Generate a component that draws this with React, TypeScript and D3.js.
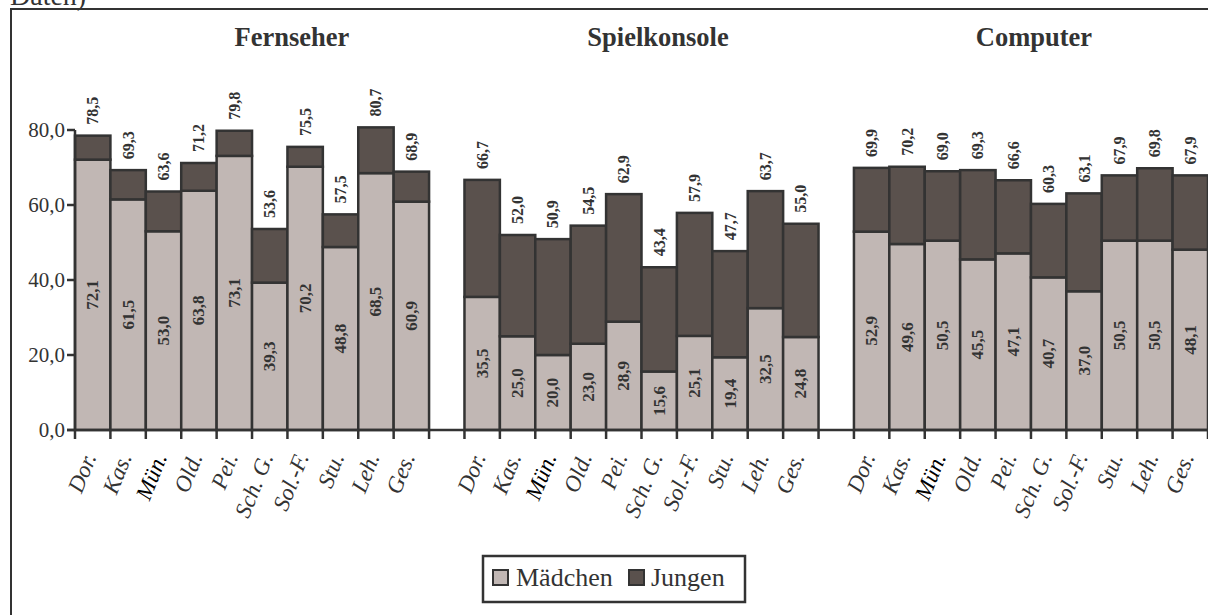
import { scaleBand, scaleLinear, range } from "d3";

// categories (x labels) and groups
const groups = ["Fernseher", "Spielkonsole", "Computer"];
const places = ["Dor.", "Kas.", "Mün.", "Old.", "Pei.", "Sch. G.", "Sol.-F.", "Stu.", "Leh.", "Ges."];

// Mädchen share per group (bottom segment)
const maedchenFernseher = [72.1, 61.5, 53.0, 63.8, 73.1, 39.3, 70.2, 48.8, 68.5, 60.9];
const maedchenSpiel = [35.5, 25.0, 20.0, 23.0, 28.9, 15.6, 25.1, 19.4, 32.5, 24.8];
const maedchenComputer = [52.9, 49.6, 50.5, 45.5, 47.1, 40.7, 37.0, 50.5, 50.5, 48.1];

// totals printed on top of the stacks (Mädchen + Jungen)
const totalFernseher = [78.5, 69.3, 63.6, 71.2, 79.8, 53.6, 75.5, 57.5, 80.7, 68.9];
const totalSpiel = [66.7, 52.0, 50.9, 54.5, 62.9, 43.4, 57.9, 47.7, 63.7, 55.0];
const totalComputer = [69.9, 70.2, 69.0, 69.3, 66.6, 60.3, 63.1, 67.9, 69.8, 67.9];

const yTicks = [0, 20, 40, 60, 80];

const maedchen = [maedchenFernseher, maedchenSpiel, maedchenComputer];
const totals = [totalFernseher, totalSpiel, totalComputer];

const W = 1208;
const H = 615;
const LIGHT = "#c1b7b4";
const DARK = "#5a514d";
const INK = "#333333";
const SERIF = "'Liberation Serif', 'Times New Roman', serif";
const fmt = (v: number) => v.toFixed(1).replace(".", ",");

export default function App() {
    const left = 75;
    const slots = groups.length * (places.length + 1) - 1; // one empty slot between groups
    const x = scaleBand<number>().domain(range(slots)).range([left, W]).padding(0);
    const y = scaleLinear().domain([0, 80]).range([430, 130]);
    const bw = x.bandwidth();
    const slotOf = (g: number, i: number) => g * (places.length + 1) + i;

    // title centre offsets (not exactly centred in the original)
    const titleX = [292, 658, 1034];

    return (
        <svg
            width={W}
            height={H}
            style={{ position: "absolute", left: 0, top: 0, background: "#fff" }}
            fontFamily={SERIF}
        >
            <text x={10} y={5} fontSize={28} fill={INK}>Daten)</text>
            <rect x={11} y={9} width={W} height={H} fill="none" stroke={INK} strokeWidth={2} />

            {/* group titles */}
            {groups.map((g, gi) => (
                <text key={g} x={titleX[gi]} y={46} textAnchor="middle" fontSize={26.5} fontWeight="bold" fill={INK}>
                    {g}
                </text>
            ))}

            {/* bars */}
            {groups.map((g, gi) =>
                places.map((p, i) => {
                    const x0 = x(slotOf(gi, i)) ?? 0;
                    const m = maedchen[gi][i];
                    const t = totals[gi][i];
                    return (
                        <g key={`${gi}-${i}`}>
                            <rect x={x0} y={y(m)} width={bw} height={y(0) - y(m)} fill={LIGHT} stroke={INK} strokeWidth={2.5} />
                            <rect x={x0} y={y(t)} width={bw} height={y(m) - y(t)} fill={DARK} stroke={INK} strokeWidth={2.5} />
                        </g>
                    );
                }),
            )}

            {/* value labels */}
            {groups.map((g, gi) =>
                places.map((p, i) => {
                    const cx = (x(slotOf(gi, i)) ?? 0) + bw / 2;
                    const m = maedchen[gi][i];
                    const t = totals[gi][i];
                    const cy = (y(0) + y(m)) / 2;
                    const ty = y(t) - 11;
                    return (
                        <g key={`l-${gi}-${i}`} fontWeight="bold" fill={INK}>
                            <text transform={`translate(${cx},${cy}) rotate(-90)`} textAnchor="middle" dominantBaseline="central" fontSize={17}>
                                {fmt(m)}
                            </text>
                            <text transform={`translate(${cx},${ty}) rotate(-90)`} textAnchor="start" dominantBaseline="central" fontSize={16}>
                                {fmt(t)}
                            </text>
                        </g>
                    );
                }),
            )}

            {/* y axis */}
            <line x1={left} x2={left} y1={y(0)} y2={y(80)} stroke={INK} strokeWidth={2.5} />
            {yTicks.map((v) => (
                <g key={v}>
                    <line x1={left - 8} x2={left} y1={y(v)} y2={y(v)} stroke={INK} strokeWidth={2.5} />
                    <text x={left - 10} y={y(v)} textAnchor="end" dominantBaseline="central" fontSize={21} fill={INK}>
                        {fmt(v)}
                    </text>
                </g>
            ))}

            {/* x axis */}
            <line x1={left - 8} x2={W} y1={y(0)} y2={y(0)} stroke={INK} strokeWidth={2.5} />
            {groups.map((g, gi) =>
                range(places.length + 1).map((k) => {
                    const xx = (x(slotOf(gi, 0)) ?? 0) + k * bw;
                    return <line key={`t-${gi}-${k}`} x1={xx} x2={xx} y1={y(0)} y2={y(0) + 9} stroke={INK} strokeWidth={2.5} />;
                }),
            )}
            {groups.map((g, gi) =>
                places.map((p, i) => {
                    const cx = (x(slotOf(gi, i)) ?? 0) + bw / 2;
                    return (
                        <text
                            key={`x-${gi}-${i}`}
                            transform={`translate(${cx + 4},${y(0) + 27}) rotate(-68)`}
                            textAnchor="end"
                            fontSize={23}
                            fontStyle="italic"
                            fill={p === "Mün." ? "#000" : INK}
                        >
                            {p}
                        </text>
                    );
                }),
            )}

            {/* legend */}
            <rect x={483} y={556} width={262} height={46} fill="#fff" stroke={INK} strokeWidth={2.5} />
            <rect x={493} y={570} width={15} height={15} fill={LIGHT} stroke={INK} strokeWidth={2} />
            <text x={516} y={586} fontSize={26} fill={INK}>Mädchen</text>
            <rect x={629} y={570} width={15} height={15} fill={DARK} stroke={INK} strokeWidth={2} />
            <text x={651} y={586} fontSize={26} fill={INK}>Jungen</text>
        </svg>
    );
}
